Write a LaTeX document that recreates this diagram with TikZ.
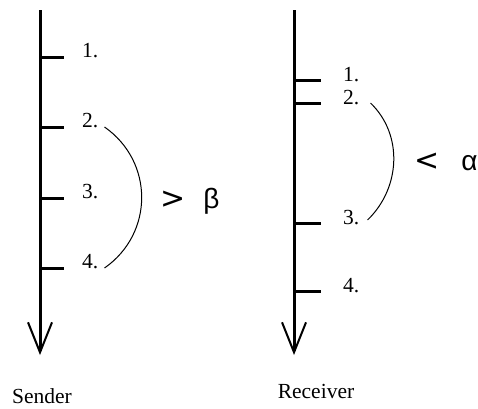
\documentclass[tikz,border=0pt]{standalone}
\usepackage{fontspec}
\setmainfont{Liberation Serif}
\newfontfamily\greekfont{Liberation Sans}
\newfontfamily\relfont{DejaVu Sans}
\usetikzlibrary{arrows.meta}

\begin{document}
\begin{tikzpicture}[x=1pt, y=-1pt,
    timeline/.style={line width=3pt, -{Straight Barb[length=30pt,width=24pt,line width=2pt]}},
    tickmark/.style={line width=3pt},
    span/.style={line width=1pt},
    lbl/.style={anchor=base west, inner sep=0pt, font=\fontsize{21.5}{25}\selectfont},
    rel/.style={anchor=base west, inner sep=0pt, font=\fontsize{28}{30}\selectfont}]
    \useasboundingbox (0,0) rectangle (478,408);

    % Sender
    \coordinate (Stop) at (40,10);
    \coordinate (Send) at (40,355);
    \draw[timeline] (Stop) -- (Send);
    \foreach \y/\n in {57/1, 127/2, 198/3, 268/4} {
        \coordinate (st\n) at (40,\y);
        \draw[tickmark] (st\n) -- ++(24,0);
        \node[lbl] (s\n) at (82,\y) {\n.};
    }
    \node[lbl, anchor=base] (S) at (42,403) {Sender};

    % Receiver
    \coordinate (Rtop) at (294,10);
    \coordinate (Rend) at (294,355);
    \draw[timeline] (Rtop) -- (Rend);
    \foreach \y/\n in {80/1, 103/2, 223/3, 291/4} {
        \coordinate (rt\n) at (294,\y);
        \draw[tickmark] (rt\n) -- ++(27,0);
        \node[lbl] (r\n) at (343,\y+1) {\n.};
    }
    \node[lbl, anchor=base] (R) at (316,398) {Receiver};

    % Spans
    \draw[span] ([xshift=6pt]s2.base east) to[out=-35, in=35, looseness=1.1] ([xshift=6pt]s4.base east);
    \node[rel] (gb) at (160,208) {{\relfont\fontsize{30}{30}\selectfont >}\hspace{18pt}{\greekfont β}};
    \draw[span] ([xshift=11pt, yshift=1pt]r2.base east) to[out=-44, in=44] ([xshift=8pt, yshift=4pt]r3.base east);
    \node[rel] (la) at (414,170) {{\relfont\fontsize{30}{30}\selectfont <}\hspace{22pt}{\greekfont α}};
\end{tikzpicture}
\end{document}
